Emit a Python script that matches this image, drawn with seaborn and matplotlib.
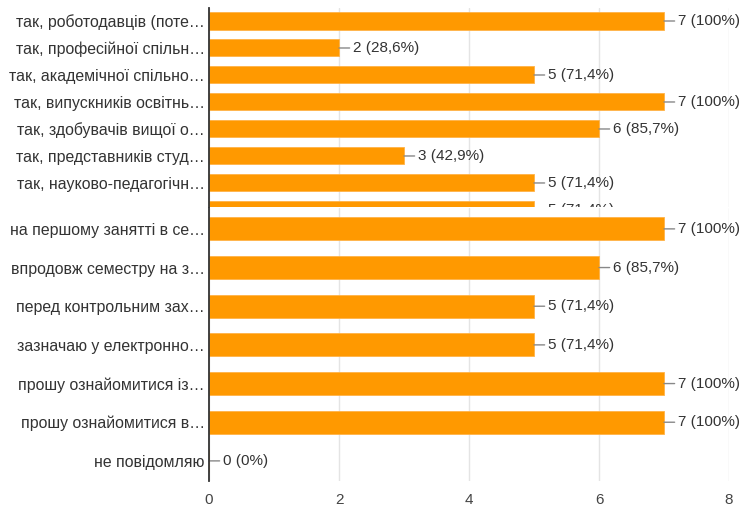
import matplotlib
matplotlib.use("Agg")
import matplotlib.pyplot as plt
import seaborn as sns
import pandas as pd
from matplotlib.transforms import Bbox, TransformedBbox

top_labels = ["так, роботодавців (поте…", "так, професійної спільн…", "так, академічної спільно…",
              "так, випускників освітнь…", "так, здобувачів вищої о…", "так, представників студ…",
              "так, науково-педагогічн…", " "]
top_counts = [7, 2, 5, 7, 6, 3, 5, 5]

bottom_labels = ["на першому занятті в се…", "впродовж семестру на з…", "перед контрольним зах…",
                 "зазначаю у електронно…", "прошу ознайомитися із…", "прошу ознайомитися в…",
                 "не повідомляю"]
bottom_counts = [7, 6, 5, 5, 7, 7, 0]

total = 7
x_ticks = [0, 2, 4, 6, 8]

sns.set_theme(style="white")
plt.rcParams['font.family'] = ['Liberation Sans', 'DejaVu Sans']

ORANGE = "#FF9900"
FS = 11
FS_LAB = 11.4
W, H = 746, 508
fig = plt.figure(figsize=(W / 100, H / 100), dpi=100)
left = 209 / W
right = 729 / W
ax_top = fig.add_axes([left, 1 - 207 / H, right - left, (207 - 7.5) / H])
ax_bot = fig.add_axes([left, 1 - 481 / H, right - left, (481 - 208) / H])


def pct(n):
    p = n / total * 100
    s = f"{p:.1f}".replace(".", ",")
    if s.endswith(",0"):
        s = s[:-2]
    return f"{n} ({s}%)"


def draw(ax, labels, counts, ylim, width):
    df = pd.DataFrame({"label": labels, "count": counts})
    sns.barplot(data=df, x="count", y="label", orient="h", color=ORANGE,
                saturation=1, width=width, ax=ax, edgecolor="#FFB347", linewidth=0.6)
    ax.set_xlim(0, 8)
    ax.set_ylim(ylim)
    ax.set_xlabel("")
    ax.set_ylabel("")
    ax.set_xticks(x_ticks)
    ax.grid(axis="x", color="#e4e4e4", linewidth=1)
    ax.set_axisbelow(True)
    for s in ["top", "right", "bottom"]:
        ax.spines[s].set_visible(False)
    ax.spines["left"].set_color("#333333")
    ax.spines["left"].set_linewidth(1.3)
    ax.spines["left"].set_zorder(5)
    ax.tick_params(axis="y", length=0, pad=3, labelsize=FS_LAB, labelcolor="#333333")
    ax.tick_params(axis="x", length=0)
    for i, n in enumerate(counts):
        ax.annotate(pct(n), xy=(n, i), xytext=(10, 0), textcoords="offset points",
                    ha="left", va="center", fontsize=FS, color="#333333",
                    arrowprops=dict(arrowstyle="-", color="#888888", lw=1,
                                    shrinkA=0, shrinkB=0),
                    annotation_clip=False)


draw(ax_top, top_labels, top_counts, (6.89, -0.5), 0.63)
draw(ax_bot, bottom_labels, bottom_counts, (6.52, -0.54), 0.6)

ax_top.set_xticklabels([])
ax_bot.tick_params(axis="x", pad=9, labelsize=FS, labelcolor="#444444")

# clip the cut-off last row of the top panel at the panel's bottom edge
fig.canvas.draw()
y0 = 1 - 207 / H
clip = TransformedBbox(Bbox([[0, y0], [1, 1]]), fig.transFigure)
for t in ax_top.texts:
    t.set_clip_on(True)
    t.set_clip_box(clip)
    if t.arrow_patch is not None:
        t.arrow_patch.set_clip_box(clip)

fig.savefig("out.png", dpi=100, facecolor="white")
